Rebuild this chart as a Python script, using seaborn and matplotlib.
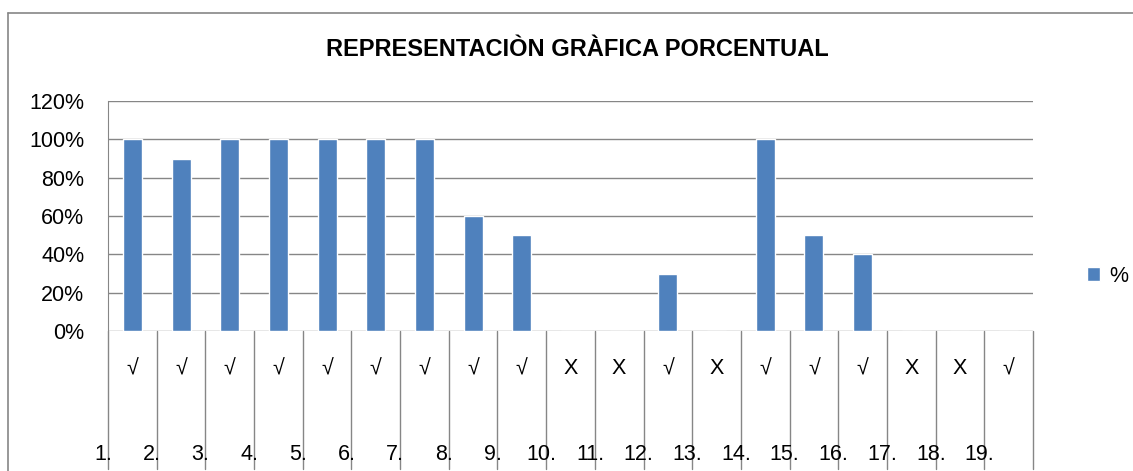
import numpy as np
import pandas as pd
import seaborn as sns
import matplotlib.pyplot as plt
import matplotlib.transforms as mtransforms
from matplotlib.lines import Line2D

sns.set_style("white")
plt.rcParams['font.family'] = ['Liberation Sans', 'DejaVu Sans']
plt.rcParams['text.color'] = "black"
plt.rcParams['ytick.labelcolor'] = "black"

items = [f"{i}." for i in range(1, 20)]
marks = ["√"] * 9 + ["X", "X", "√", "X", "√", "√", "√", "X", "X", "√"]
percent = [100, 90, 100, 100, 100, 100, 100, 60, 50, 0, 0, 30, 0, 100, 50, 40, 0, 0, 0]
yticks = [0, 20, 40, 60, 80, 100, 120]

df = pd.DataFrame({"item": items, "pct": percent})

fig = plt.figure(figsize=(11.33, 4.71), dpi=100)
ax = fig.add_axes([108 / 1133, 1 - 331 / 471, 925 / 1133, 230 / 471])

grid_col = "#868686"
bar_col = "#4F81BD"

ax.set_axisbelow(True)
for t in yticks:
    ax.axhline(t, color=grid_col, lw=1, zorder=0)

sns.barplot(data=df, x="item", y="pct", color=bar_col, width=0.39,
            saturation=1, label="%", ax=ax, zorder=2)

ax.set_xlim(-0.5, len(items) - 0.5)
ax.set_ylim(0, 120)
ax.set_yticks(yticks)
ax.set_yticklabels([f"{t}%" for t in yticks], fontsize=15.5, color="black")
ax.set_xticks([])
ax.set_xlabel("")
ax.set_ylabel("")
ax.tick_params(axis="y", length=5, width=1, color=grid_col, pad=12)

for side in ["top", "right", "bottom"]:
    ax.spines[side].set_visible(False)
ax.spines["left"].set_color(grid_col)

# category separators and two-level labels below the axis
trans = mtransforms.blended_transform_factory(ax.transData, ax.transAxes)
for b in np.arange(-0.5, len(items), 1.0):
    ax.add_line(Line2D([b, b], [0, -0.6], transform=trans, color=grid_col,
                       lw=1, clip_on=False))
for i, m in enumerate(marks):
    ax.text(i, -0.165, m, transform=trans, ha="center", va="center",
            fontsize=15.5, color="black")
for i, lab in enumerate(items):
    ax.text(i - 0.5 - 0.1, -0.535, lab, transform=trans, ha="center", va="center",
            fontsize=15.5, color="black")

ax.legend(loc="center left", bbox_to_anchor=(1068 / 1133, 1 - 276 / 471),
          bbox_transform=fig.transFigure, frameon=False, fontsize=15.5,
          handlelength=0.6, handleheight=0.6, handletextpad=0.4, labelcolor="black")

fig.text(577 / 1133, 1 - 50 / 471, "REPRESENTACIÒN GRÀFICA PORCENTUAL",
         ha="center", va="center", fontsize=17, fontweight="bold", color="black")

# outer chart frame
fig.add_artist(Line2D([8 / 1133, 8 / 1133], [0, 1 - 13 / 471],
                      transform=fig.transFigure, color=grid_col, lw=1.2))
fig.add_artist(Line2D([8 / 1133, 1], [1 - 13 / 471, 1 - 13 / 471],
                      transform=fig.transFigure, color=grid_col, lw=1.2))

fig.savefig("out.png", dpi=100)
